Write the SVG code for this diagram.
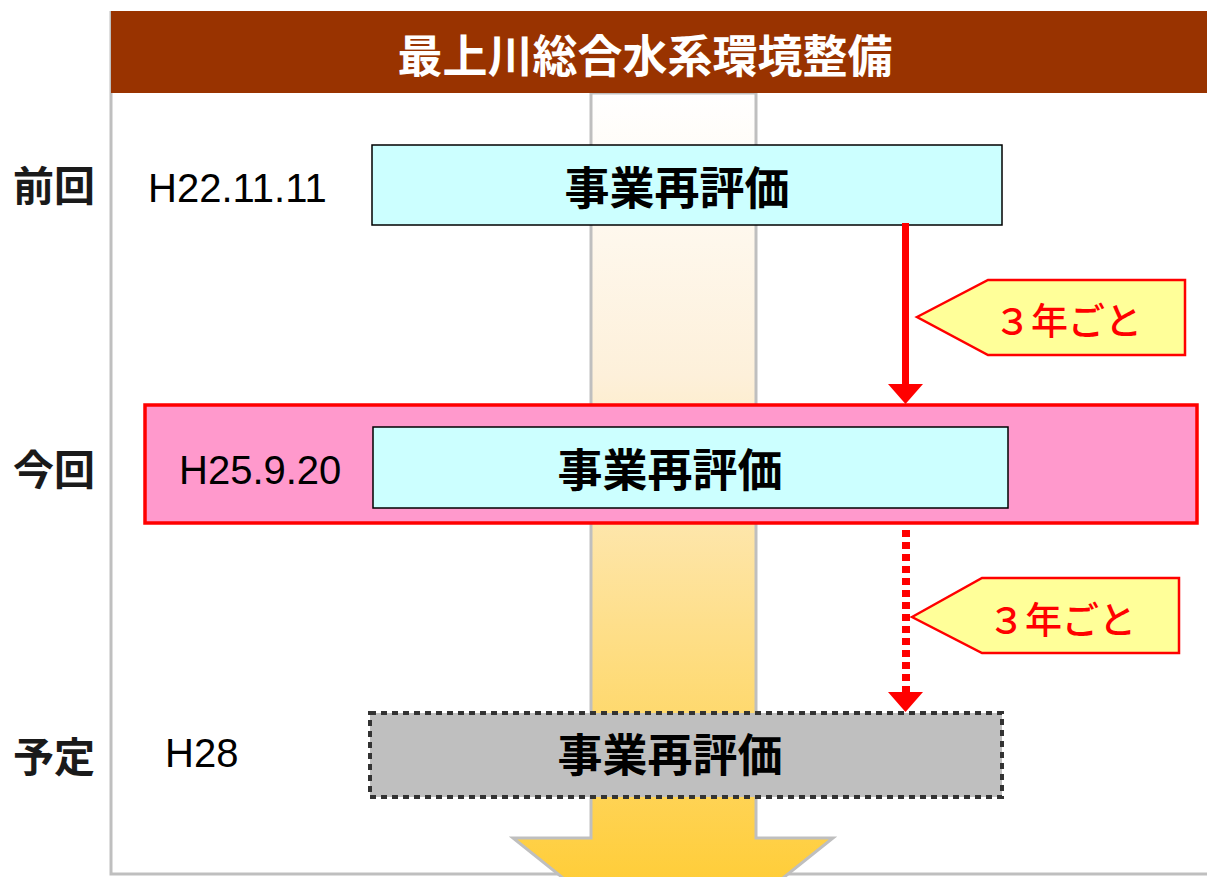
<svg xmlns="http://www.w3.org/2000/svg" width="1207" height="877" viewBox="0 0 1207 877">
<defs>
<linearGradient id="flow" gradientUnits="userSpaceOnUse" x1="0" y1="93" x2="0" y2="900">
<stop offset="0" stop-color="#FFFFFF"/>
<stop offset="0.35" stop-color="#FDF0DA"/>
<stop offset="1" stop-color="#FFCC33"/>
</linearGradient>
<style>
.cjk{font-family:"Noto Sans CJK JP","Noto Sans CJK SC",sans-serif;font-weight:bold}
.lat{font-family:"Liberation Sans",Arial,sans-serif}
.box{fill:#CCFFFF;stroke:#000;stroke-width:1.5}
.main{font-size:45px;fill:#000;text-anchor:middle}
.row{font-size:41px;fill:#1a1a1a}
.date{font-size:40px;fill:#000}
.call{fill:#FFFF99;stroke:#FF0000;stroke-width:2.5}
.calltxt{font-family:"Noto Sans CJK JP",sans-serif;font-weight:500;font-size:37px;fill:#FF0000;text-anchor:middle}
</style>
</defs>
<rect width="1207" height="877" fill="#FFFFFF"/>
<g id="frame">
<polyline points="111,11 111,874 1207,874" fill="none" stroke="#BFBFBF" stroke-width="3"/>
</g>
<g id="flow-arrow">
<polygon points="591,93 756,93 756,838 833,838 673,966 513,838 591,838" fill="url(#flow)" stroke="#BFBFBF" stroke-width="3"/>
</g>
<g id="header">
<rect x="111" y="11" width="1096" height="82" fill="#993300"/>
<text class="cjk" x="645" y="73" font-size="45" fill="#FFFFFF" text-anchor="middle">最上川総合水系環境整備</text>
</g>
<g id="row-labels">
<text class="cjk row" x="13" y="201">前回</text>
<text class="cjk row" x="13" y="485">今回</text>
<text class="cjk row" x="13" y="772">予定</text>
</g>
<g id="current-band">
<rect x="145" y="405" width="1052" height="118" fill="#FF99CC" stroke="#FF0000" stroke-width="3.5"/>
</g>
<g id="prev">
<text class="lat date" x="148" y="202">H22.11.11</text>
<rect class="box" x="372" y="145" width="630" height="80"/>
<text class="cjk main" x="677" y="205">事業再評価</text>
</g>
<g id="now">
<text class="lat date" x="179" y="484">H25.9.20</text>
<rect class="box" x="373" y="427" width="635" height="81"/>
<text class="cjk main" x="670" y="487">事業再評価</text>
</g>
<g id="next">
<text class="lat date" x="165" y="767">H28</text>
<rect x="370" y="713" width="632" height="84" fill="#BFBFBF" stroke="#333333" stroke-width="4" stroke-dasharray="6 5"/>
<text class="cjk main" x="670" y="772">事業再評価</text>
</g>
<g id="connectors">
<line x1="905.5" y1="223" x2="905.5" y2="386" stroke="#FF0000" stroke-width="7"/>
<polygon points="888,384 923,384 905.5,404" fill="#FF0000"/>
<line x1="906" y1="530" x2="906" y2="694" stroke="#FF0000" stroke-width="8" stroke-dasharray="7 5"/>
<polygon points="888,692 923,692 905.5,712" fill="#FF0000"/>
</g>
<g id="callout-1">
<polygon class="call" points="917,317 988,280 1185,280 1185,355 988,355"/>
<text class="calltxt" x="1068" y="335">３年ごと</text>
</g>
<g id="callout-2">
<polygon class="call" points="912,617 982,578 1179,578 1179,653 982,653"/>
<text class="calltxt" x="1062" y="634">３年ごと</text>
</g>
</svg>
